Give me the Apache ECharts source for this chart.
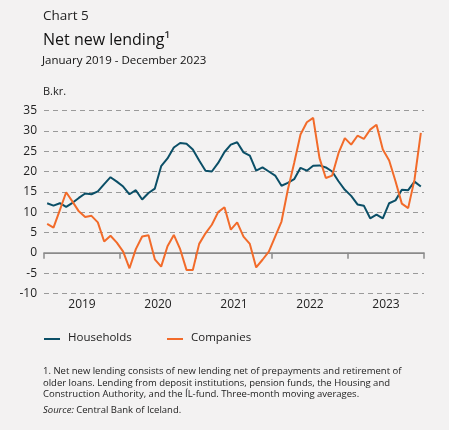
<!DOCTYPE html>
<html>
<head>
<meta charset="utf-8">
<script src="https://cdn.jsdelivr.net/npm/echarts@6/dist/echarts.min.js"></script>
<style>
html,body{margin:0;padding:0;background:#f3f2f2;}
#c{width:449px;height:430px;}
</style>
</head>
<body>
<div id="c"></div>
<script>
var years = ['2019', '2020', '2021', '2022', '2023'];
var households = [
  12.2, 11.6, 12.2, 11.3, 12.3, 13.5, 14.6, 14.4, 15.1, 16.9, 18.6, 17.5,
  16.3, 14.4, 15.4, 13.1, 14.7, 15.8, 21.3, 23.2, 25.9, 27.0, 26.8, 25.4,
  22.7, 20.2, 20.0, 22.1, 24.8, 26.6, 27.2, 24.7, 23.9, 20.2, 21.0, 20.0,
  19.0, 16.5, 17.2, 18.1, 20.9, 20.2, 21.4, 21.5, 21.0, 20.0, 17.6, 15.5,
  14.0, 11.9, 11.6, 8.5, 9.4, 8.5, 12.2, 12.9, 15.5, 15.4, 17.5, 16.3
];
var companies = [
  7.1, 6.2, 10.5, 14.9, 12.6, 10.2, 8.8, 9.1, 7.5, 2.8, 4.2, 2.5,
  0.3, -3.8, 0.9, 4.0, 4.3, -1.6, -3.4, 1.6, 4.4, 0.9, -4.2, -4.2,
  2.2, 4.8, 6.9, 10.0, 11.2, 5.7, 7.5, 4.0, 2.2, -3.6, -1.7, 0.3,
  4.0, 7.7, 15.5, 22.1, 29.1, 32.1, 33.2, 23.3, 18.4, 19.0, 24.5, 28.2,
  26.6, 28.8, 28.0, 30.3, 31.5, 25.4, 22.7, 17.6, 12.1, 11.0, 18.0, 29.5
];
var yTicks = [-10, -5, 0, 5, 10, 15, 20, 25, 30, 35];
var seriesNames = ['Households', 'Companies'];
var footnote = [
  '1. Net new lending consists of new lending net of prepayments and retirement of',
  'older loans. Lending from deposit institutions, pension funds, the Housing and',
  'Construction Authority, and the ÍL-fund. Three-month moving averages.'
];

var FONT = '"Open Sans", "Noto Sans", sans-serif';
var BLUE = '#0b4f67', ORANGE = '#f26b2a';

function toPoints(arr) {
  return arr.map(function (v, i) { return [i + 0.5, v]; });
}
var yearTicks = years.map(function (y, i) { return i * 12; }).concat([years.length * 12]);
var yearLabelPos = years.map(function (y, i) { return i * 12 + 6; });

var chart = echarts.init(document.getElementById('c'), null, {renderer: 'canvas'});
chart.setOption({
  backgroundColor: '#f3f2f2',
  animation: false,
  grid: {left: 44, right: 25, top: 110.5, bottom: 136.5, containLabel: false},
  xAxis: {
    type: 'value', min: 0, max: years.length * 12, interval: 6,
    axisLine: {show: true, lineStyle: {color: '#8c8c8c', width: 1.5}},
    axisTick: {show: true, customValues: yearTicks, length: 6, lineStyle: {color: '#8c8c8c', width: 1.5}},
    axisLabel: {
      show: true, customValues: yearLabelPos, margin: 5,
      fontFamily: FONT, fontSize: 12, color: '#222',
      formatter: function (v) { return years[Math.floor(v / 12)] || ''; }
    },
    splitLine: {show: false}
  },
  yAxis: {
    type: 'value', min: yTicks[0], max: yTicks[yTicks.length - 1], interval: 5,
    axisLine: {show: false}, axisTick: {show: false},
    axisLabel: {margin: 7, fontFamily: FONT, fontSize: 12, color: '#222'},
    splitLine: {show: true, lineStyle: {color: '#9a9a9a', type: [5, 4], width: 1}}
  },
  series: [
    {
      name: seriesNames[0], type: 'line', data: toPoints(households),
      symbol: 'none', lineStyle: {color: BLUE, width: 2}, itemStyle: {color: BLUE},
      z: 3,
      markLine: {
        silent: true, symbol: 'none', label: {show: false},
        lineStyle: {color: '#8a8a8a', type: 'solid', width: 1.2},
        data: [{yAxis: 0}], z: 1
      }
    },
    {
      name: seriesNames[1], type: 'line', data: toPoints(companies),
      symbol: 'none', lineStyle: {color: ORANGE, width: 2}, itemStyle: {color: ORANGE},
      z: 4
    }
  ],
  legend: {show: false},
  graphic: [
    {type: 'text', left: 43, top: 9, style: {text: 'Chart 5', fontFamily: FONT, fontSize: 13.5, fill: '#222'}},
    {type: 'text', left: 43, top: 32, style: {text: 'Net new lending\u00b9', fontFamily: FONT, fontSize: 16, fill: '#111'}},
    {type: 'text', left: 42, top: 55, style: {text: 'January 2019 - December 2023', fontFamily: FONT, fontSize: 11.5, fill: '#111'}},
    {type: 'text', left: 43, top: 86, style: {text: 'B.kr.', fontFamily: FONT, fontSize: 11, fill: '#222'}},
    {type: 'line', shape: {x1: 44, y1: 339, x2: 60, y2: 339}, style: {stroke: BLUE, lineWidth: 2}},
    {type: 'text', left: 68, top: 331.5, style: {text: seriesNames[0], fontFamily: FONT, fontSize: 11.5, fill: '#222'}},
    {type: 'line', shape: {x1: 167, y1: 339, x2: 183, y2: 339}, style: {stroke: ORANGE, lineWidth: 2}},
    {type: 'text', left: 191, top: 331.5, style: {text: seriesNames[1], fontFamily: FONT, fontSize: 11.5, fill: '#222'}},
    {type: 'text', left: 43, top: 366.5, style: {text: footnote[0], fontFamily: FONT, fontSize: 9.5, fill: '#222'}},
    {type: 'text', left: 43, top: 378, style: {text: footnote[1], fontFamily: FONT, fontSize: 9.5, fill: '#222'}},
    {type: 'text', left: 43, top: 389.5, style: {text: footnote[2], fontFamily: FONT, fontSize: 9.5, fill: '#222'}},
    {type: 'text', left: 43, top: 405, style: {
      text: '{i|Source:} Central Bank of Iceland.', fontFamily: FONT, fontSize: 9.5, fill: '#222',
      rich: {i: {fontStyle: 'italic', fontFamily: FONT, fontSize: 9.5, fill: '#222'}}
    }}
  ]
});
</script>
</body>
</html>
